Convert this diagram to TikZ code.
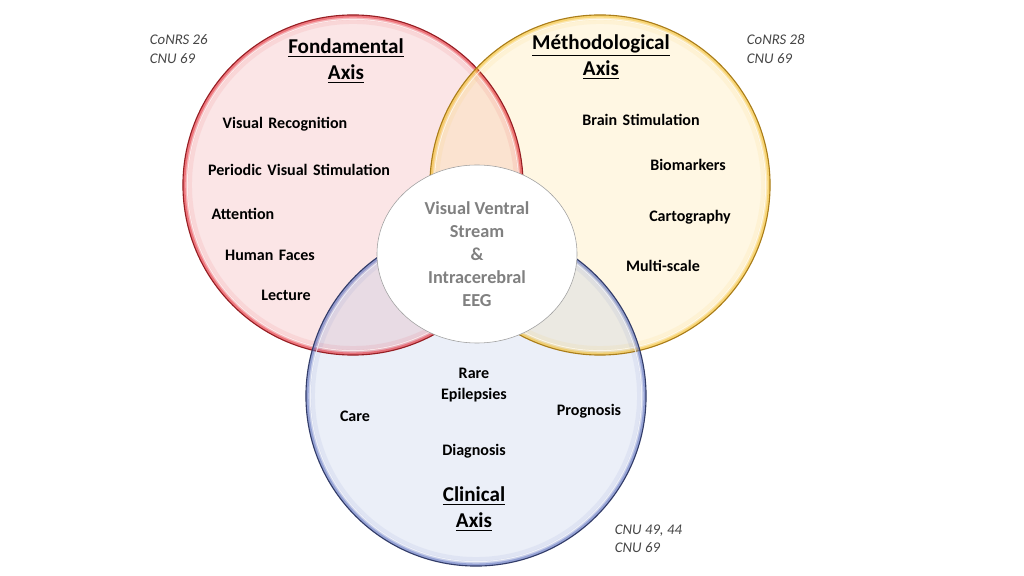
\documentclass[tikz,border=0pt]{standalone}
\usepackage{fontspec}
\setmainfont{Carlito}
\newfontfamily\topicfont[WordSpace=1.5]{Carlito}
\usetikzlibrary{shapes.geometric}
\definecolor{fondred}{RGB}{240,140,145}
\definecolor{fondedge}{RGB}{150,30,35}
\definecolor{fondglow}{RGB}{230,40,50}
\definecolor{methyellow}{RGB}{255,222,130}
\definecolor{methedge}{RGB}{170,125,25}
\definecolor{methglow}{RGB}{245,190,40}
\definecolor{clinblue}{RGB}{165,185,225}
\definecolor{clinedge}{RGB}{50,60,105}
\definecolor{clinglow}{RGB}{90,110,190}
\definecolor{centergray}{RGB}{128,128,128}
\definecolor{notegray}{RGB}{70,70,70}
\tikzset{
  axiscircle/.style={circle, minimum size=8.5cm, inner sep=0pt, fill opacity=0.22},
  axistitle/.style={font=\fontsize{15}{18.5}\selectfont\bfseries, align=center},
  topic/.style={font=\topicfont\fontsize{11.4}{15}\selectfont\bfseries, align=center},
  cnulabel/.style={font=\fontsize{10.5}{13}\selectfont\itshape, text=notegray, align=left, anchor=west},
  corebox/.style={ellipse, draw=gray!75, fill=white, minimum width=5cm, minimum height=4.45cm, inner sep=0pt,
    font=\fontsize{13}{16.4}\selectfont\bfseries, text=centergray, align=center}
}
\newcommand{\axisring}[3]{%
  \foreach \w/\o in {9/0.08, 5/0.18, 2.5/0.45} {
    \draw[#2, line width=\w*0.025cm, draw opacity=\o] (#1.center) circle[radius=4.25cm-\w*0.0125cm];
  }
  \draw[white, line width=0.7pt, draw opacity=0.7] (#1.center) circle[radius=4.25cm-0.11cm];
  \draw[#3, line width=0.8pt] (#1.center) circle[radius=4.25cm];
}
\begin{document}
\begin{tikzpicture}[x=0.025cm, y=-0.025cm]
    % Background
    \fill[white] (0,0) rectangle (1024,576);
    \useasboundingbox (0,0) rectangle (1024,576);

    % Axis circles
    \node[axiscircle, fill=fondred] (fond) at (353,185) {};
    \node[axiscircle, fill=methyellow] (meth) at (600,185) {};
    \node[axiscircle, fill=clinblue] (clin) at (476,396) {};
    \axisring{fond}{fondglow}{fondedge}
    \axisring{meth}{methglow}{methedge}
    \axisring{clin}{clinglow}{clinedge}

    % Core
    \node[corebox] (core) at (477,254) {Visual Ventral\\Stream\\\&\\Intracerebral\\EEG};

    % Fondamental axis
    \node[axistitle] (fondtitle) at (346,61) {\underline{Fondamental}\\\underline{Axis}};
    \node[cnulabel] (fondcnu) at (145,49) {CoNRS 26\\CNU 69};
    \node[topic] (recog) at (285,124) {Visual Recognition};
    \node[topic] (pvs) at (299,170) {Periodic Visual Stimulation};
    \node[topic] (attn) at (243,214) {Attention};
    \node[topic] (faces) at (270,255) {Human Faces};
    \node[topic] (lect) at (286,295) {Lecture};

    % Methodological axis
    \node[axistitle] (methtitle) at (601,57) {\underline{Méthodological}\\\underline{Axis}};
    \node[cnulabel] (methcnu) at (742,49) {CoNRS 28\\CNU 69};
    \node[topic] (brain) at (641,120) {Brain Stimulation};
    \node[topic] (bio) at (688,165) {Biomarkers};
    \node[topic] (carto) at (690,217) {Cartography};
    \node[topic] (multi) at (663,266) {Multi-scale};

    % Clinical axis
    \node[axistitle] (clintitle) at (474,509) {\underline{Clinical}\\\underline{Axis}};
    \node[cnulabel] (clincnu) at (610,539) {CNU 49, 44\\CNU 69};
    \node[topic] (rare) at (474,385) {Rare\\Epilepsies};
    \node[topic] (care) at (355,416) {Care};
    \node[topic] (prog) at (589,411) {Prognosis};
    \node[topic] (diag) at (474,451) {Diagnosis};
\end{tikzpicture}
\end{document}
